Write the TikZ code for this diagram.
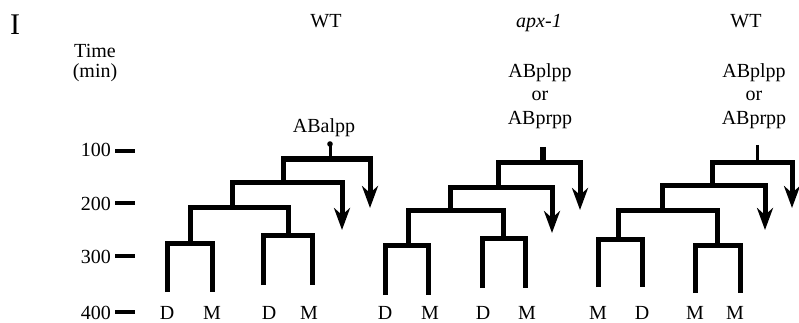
\documentclass[tikz,border=0pt]{standalone}
\usepackage{fontspec}
\setmainfont{Liberation Serif}
\usetikzlibrary{arrows.meta}
\begin{document}
\begin{tikzpicture}[x=1pt,y=-1pt,
  lin/.style={line width=5pt, line join=miter, line cap=butt},
  arr/.style={lin, -{Stealth[length=22pt,width=16pt,inset=7pt]}},
  stem/.style={line width=3pt},
  tick/.style={line width=3.5pt},
  lbl/.style={font=\fontsize{20}{22}\selectfont, inner sep=0pt, anchor=base},
  num/.style={lbl, anchor=base east},
]
\useasboundingbox (0,0) rectangle (799,323);

% panel letter and headings
\node[lbl, font=\fontsize{30}{32}\selectfont] (panel) at (15,35) {I};
\node[lbl] (h1) at (326,28) {WT};
\node[lbl] (h2) at (539,28) {\itshape apx-1};
\node[lbl] (h3) at (746,28) {WT};
\node[lbl] (time) at (95,58) {Time};
\node[lbl] (min) at (95,78) {(min)};

% cell names
\node[lbl] (c1) at (324,133) {ABalpp};
\node[lbl] (c2a) at (540,78) {ABplpp};
\node[lbl] (c2b) at (540,101) {or};
\node[lbl] (c2c) at (540,125) {ABprpp};
\node[lbl] (c3a) at (754,78) {ABplpp};
\node[lbl] (c3b) at (754,101) {or};
\node[lbl] (c3c) at (754,125) {ABprpp};

% time axis
\node[num] (n100) at (111,157) {100};
\node[num] (n200) at (111,210) {200};
\node[num] (n300) at (111,263) {300};
\node[num] (n400) at (111,319) {400};
\draw[tick] (115,151) -- (135,151);
\draw[tick] (115,203) -- (135,203);
\draw[tick] (115,256) -- (135,256);
\draw[tick] (115,312) -- (135,312);

% tree 1 (WT, ABalpp)
\fill (330,144) circle (2.8pt);
\draw[stem] (330,145) -- (330,159);
\draw[arr] (283,182) -- (283,159) -- (370,159) -- (370,208);
\draw[arr] (232,207) -- (232,182) -- (342,182) -- (342,230);
\draw[lin] (190,243) -- (190,207) -- (288,207) -- (288,235);
\draw[lin] (167,292) -- (167,243) -- (212,243) -- (212,292);
\draw[lin] (263,285) -- (263,235) -- (312,235) -- (312,285);

% tree 2 (apx-1)
\draw[line width=6pt] (543,147) -- (543,162);
\draw[arr] (498,187) -- (498,162) -- (580,162) -- (580,210);
\draw[arr] (450,210) -- (450,187) -- (552,187) -- (552,233);
\draw[lin] (408,245) -- (408,210) -- (503,210) -- (503,238);
\draw[lin] (385,295) -- (385,245) -- (428,245) -- (428,295);
\draw[lin] (482,288) -- (482,238) -- (525,238) -- (525,288);

% tree 3 (WT)
\draw[stem] (757,145) -- (757,162);
\draw[arr] (712,185) -- (712,162) -- (792,162) -- (792,208);
\draw[arr] (662,210) -- (662,185) -- (765,185) -- (765,230);
\draw[lin] (618,239) -- (618,210) -- (717,210) -- (717,245);
\draw[lin] (598,287) -- (598,239) -- (642,239) -- (642,287);
\draw[lin] (695,293) -- (695,245) -- (740,245) -- (740,293);

% fates
\node[lbl] (f11) at (167,319) {D};
\node[lbl] (f12) at (212,319) {M};
\node[lbl] (f13) at (269,319) {D};
\node[lbl] (f14) at (309,319) {M};
\node[lbl] (f21) at (385,319) {D};
\node[lbl] (f22) at (430,319) {M};
\node[lbl] (f23) at (483,319) {D};
\node[lbl] (f24) at (527,319) {M};
\node[lbl] (f31) at (598,319) {M};
\node[lbl] (f32) at (642,319) {D};
\node[lbl] (f33) at (695,319) {M};
\node[lbl] (f34) at (735,319) {M};
\end{tikzpicture}
\end{document}
